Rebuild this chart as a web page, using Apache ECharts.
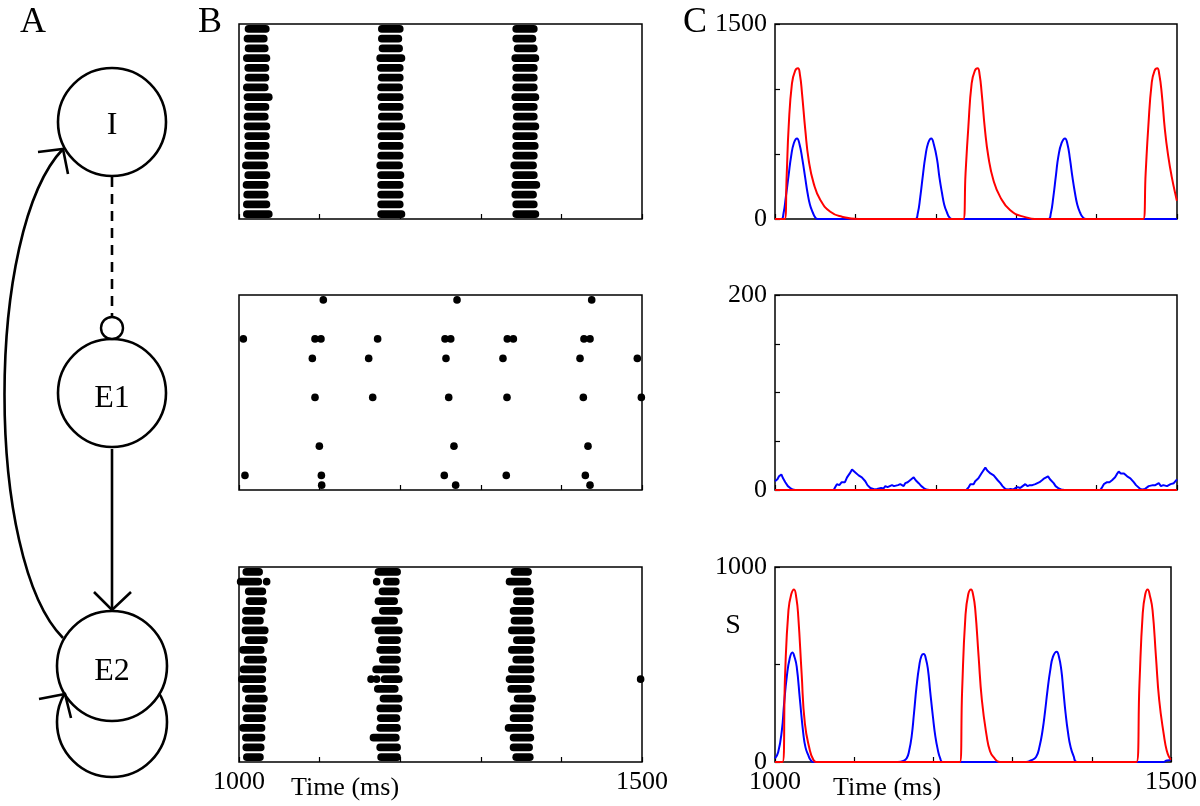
<!DOCTYPE html>
<html><head><meta charset="utf-8">
<script src="https://cdn.jsdelivr.net/npm/echarts@6/dist/echarts.min.js"></script>
<style>html,body{margin:0;padding:0;background:#fff}#c{width:1200px;height:806px}</style>
</head><body><div id="c"></div>
<script>
// ---------- DATA ----------
// Raster B (top): bursts per row, listed from row 20 (top) down to row 1, [firstSpike, lastSpike] ms
const topBurst1 = [[1011.8,1033.3],[1010.5,1030.8],[1011.8,1032.0],[1009.7,1034.1],[1011.4,1032.9],[1011.8,1032.9],[1009.7,1032.0],[1010.5,1037.0],[1011.4,1032.9],[1010.5,1032.0],[1010.5,1034.1],[1011.4,1033.3],[1011.4,1033.3],[1011.4,1032.5],[1008.5,1031.2],[1011.4,1034.1],[1009.3,1032.0],[1010.1,1032.0],[1009.7,1034.1],[1009.7,1037.0]];
const topBurst2 = [[1177.2,1199.5],[1177.2,1197.8],[1178.0,1198.7],[1175.1,1201.6],[1175.9,1199.5],[1177.2,1199.5],[1176.3,1198.7],[1176.3,1199.5],[1177.2,1199.5],[1177.2,1198.7],[1176.3,1201.6],[1176.3,1199.5],[1177.2,1199.5],[1176.3,1199.5],[1175.1,1198.7],[1176.3,1200.4],[1176.3,1199.5],[1176.3,1199.5],[1176.3,1199.5],[1176.3,1201.6]];
const topBurst3 = [[1343.9,1365.8],[1343.9,1364.1],[1345.6,1365.8],[1342.7,1367.8],[1343.9,1365.8],[1343.9,1365.8],[1343.9,1365.8],[1342.7,1367.8],[1343.9,1365.8],[1344.7,1365.8],[1343.9,1367.8],[1343.9,1365.8],[1343.9,1367.0],[1343.9,1365.8],[1341.4,1364.9],[1343.9,1365.8],[1342.7,1369.0],[1342.7,1364.9],[1343.9,1365.8],[1343.9,1367.8]];
// Raster B (middle): isolated spikes [time, row]
const midSpikes = [
 [1104.6,20],[1270.5,20],[1437.6,20],
 [1005.4,16],[1094.3,16],[1101.7,16],[1172.0,16],[1255.6,16],[1262.7,16],[1332.9,16],[1340.4,16],[1428.0,16],[1435.5,16],
 [1091.0,14],[1160.9,14],[1256.8,14],[1327.5,14],[1423.1,14],[1494.2,14],
 [1094.3,10],[1165.9,10],[1260.2,10],[1332.5,10],[1427.2,10],[1499.2,10],
 [1099.7,5],[1266.7,5],[1433.0,5],
 [1007.4,2],[1102.2,2],[1254.7,2],[1331.6,2],[1429.7,2],
 [1102.6,1],[1268.8,1],[1435.5,1]];
// Raster B (bottom)
const botBurst1 = [[1009,1025],[1002,1024],[1012,1029],[1013,1030],[1008.5,1028],[1008.5,1026],[1008,1032],[1012,1031],[1005,1027],[1010.5,1030],[1005.6,1029],[1003.5,1029],[1008.5,1028.7],[1012,1031],[1008.5,1029],[1009.7,1028.7],[1005,1028],[1008.5,1028],[1009,1027],[1009.7,1026]];
const botBurst2 = [[1173.0,1196.2],[1183.4,1194.6],[1178.0,1194.6],[1173.0,1192.5],[1178.4,1198.3],[1168.9,1192.5],[1173.0,1198.3],[1177.2,1196.2],[1175.1,1196.2],[1178.4,1196.2],[1170.1,1194.6],[1180.5,1198.3],[1172.2,1193.3],[1179.2,1198.3],[1175.1,1197.5],[1175.9,1195.4],[1175.1,1196.2],[1166.8,1194.6],[1175.1,1196.2],[1176.3,1196.2]];
const botBurst3 = [[1341.8,1358.7],[1335.6,1357.9],[1344.7,1360.8],[1344.7,1361.6],[1340.6,1360.8],[1341.8,1360.0],[1338.5,1362.0],[1344.7,1362.9],[1338.5,1360.8],[1343.9,1361.6],[1338.5,1361.6],[1335.6,1362.0],[1337.7,1358.7],[1345.6,1363.7],[1340.6,1361.6],[1340.6,1360.8],[1334.4,1360.0],[1340.6,1361.6],[1340.6,1360.0],[1343.9,1360.8]];
const botSpikes = [[1034.3,19],[1170.8,19],[1163.8,9],[1170.8,9],[1498.3,9]];

// C panels: [time ms, rate]
const cTopBlue = [[1000,0],[1007.9,0],[1010.5,40],[1013.5,170],[1017,340],[1020,480],[1023.5,585],[1027.4,620],[1030.5,575],[1034,460],[1037.5,320],[1040.5,200],[1043.5,110],[1047,50],[1050,12],[1053,0],
 [1174.5,0],[1177.5,40],[1180.7,170],[1184,340],[1187,480],[1190.5,585],[1194.4,620],[1197.5,575],[1201.5,460],[1204.5,320],[1207.7,200],[1210.5,110],[1213.9,50],[1217,12],[1220,0],
 [1340,0],[1343,40],[1346.2,170],[1349.5,340],[1352.4,480],[1356.5,585],[1360.7,620],[1363.8,575],[1366.9,460],[1370,320],[1373.1,200],[1376,110],[1379.4,50],[1383,12],[1386.8,0],[1500,0]];
const cTopRed = [[1000,0],[1012,0],[1014.5,330],[1017,710],[1021.1,1044],[1025,1140],[1028.6,1159],[1031,1110],[1033.6,967],[1037.7,684],[1041.9,454],[1048.1,274],[1056.4,146],[1068.8,56],[1083.3,18],[1104,0],
 [1234.2,0],[1237,350],[1240.5,710],[1244.6,1044],[1248.5,1140],[1252.1,1159],[1254.5,1110],[1257.1,967],[1261.2,684],[1265.4,479],[1271.6,300],[1279.9,172],[1292.3,69],[1308.9,18],[1330,0],
 [1458.1,0],[1461,350],[1464.3,710],[1468.5,1044],[1472,1140],[1475.5,1159],[1478,1110],[1481,967],[1485,684],[1489.2,479],[1493.4,326],[1499.6,146],[1500,140]];
const cMidBlue = [[1000,9],[1003,11],[1005,14],[1007.9,16],[1010,12],[1012.8,8],[1016,4],[1019,2],[1022,0.5],[1025,0],[1073,0],[1075,3],[1077,6],[1080,5],[1083,8],[1085,9],[1087,8],[1089.6,13],[1091,12],[1093,17],[1095.8,21],[1097,19],[1099.9,18],[1102,17],[1104,15],[1106,16],[1108,13],[1110,12],[1112.3,9],[1115,5],[1118.6,2],[1121,1],[1124,0.5],[1127,1],[1129,0.5],[1132,2],[1135,1.5],[1137.2,4],[1140,3],[1142,5],[1145.5,5],[1148,4],[1150,6],[1153,5],[1155.8,6],[1158,5],[1160,4],[1162,7],[1165,8],[1168,10],[1170,11],[1172.5,13],[1175,10],[1178.7,7],[1182,4],[1185,2],[1188,0.5],[1192,0],
 [1238,0],[1241,3],[1243,6],[1245,7],[1247,6],[1249,9],[1251.2,10],[1253,12],[1255,13],[1257.5,18],[1259.5,20],[1261.6,23],[1264,20],[1266,19],[1268,17],[1270,16],[1272,15],[1274.1,13],[1277,10],[1280.3,7],[1283,4],[1286.5,1],[1290,0.5],[1293,1],[1296,0.5],[1299,2],[1302,3],[1305,2],[1308,4],[1311.3,6],[1314,4],[1317,5],[1320,5],[1323.8,6],[1326,7],[1329,8],[1332.1,10],[1335,12],[1337,13],[1339.6,14],[1342,11],[1344,9],[1346.6,7],[1349,4],[1352.9,1.5],[1356,0.5],[1360,0],
 [1404.6,0],[1407,3],[1409,6],[1410.9,7],[1413,8],[1416,8],[1419.2,10],[1421,12],[1423,13],[1425,16],[1427.5,19],[1430,17],[1432,16],[1434,17],[1436,15],[1438,14],[1440,15],[1442,12],[1444,10],[1446.2,8],[1449,5],[1451,3],[1454.4,1],[1457,0.5],[1460,1],[1462,2],[1464.8,4],[1467,3],[1470,5],[1473,5],[1475,6],[1477.3,7],[1480,4],[1483,5],[1485,4],[1487.6,4],[1490,5],[1492,6],[1494,5],[1496,7],[1497.9,8],[1500,11]];
const cMidRed = [[1000,0],[1500,0]];
const cBotBlue = [[1000,19],[1004,50],[1008.7,164],[1011.5,300],[1014.9,438],[1018.5,530],[1022,561],[1024.5,540],[1027.4,489],[1031.5,318],[1035.7,147],[1038.5,75],[1041.9,36],[1045,10],[1048,0],
 [1155,0],[1162,5],[1166.3,19],[1169.5,60],[1172.5,130],[1175.5,250],[1178.7,386],[1182,490],[1185,545],[1187.8,554],[1190.5,530],[1193.2,472],[1196,360],[1199.4,232],[1202.5,130],[1205.6,62],[1208.5,20],[1211.8,0],
 [1317,0],[1323,8],[1329.6,26],[1334,80],[1337.9,164],[1341,260],[1344.1,369],[1347.5,470],[1351,540],[1355.7,566],[1358.5,540],[1361.5,472],[1364,370],[1366.9,250],[1370,150],[1373.1,79],[1377,30],[1381.5,0],[1490,0],[1495,8],[1500,10]];
const cBotRed = [[1000,0],[1009.5,0],[1012.8,455],[1017,779],[1020.5,860],[1024,885],[1027,840],[1029.4,745],[1033.6,455],[1037.7,198],[1043.9,62],[1048,15],[1052,0],
 [1233.4,0],[1236.3,369],[1240.4,745],[1244,860],[1247.5,885],[1250.5,850],[1252.9,779],[1257.1,540],[1261.2,318],[1267.4,130],[1271.5,55],[1275.7,26],[1284,0],
 [1456.5,0],[1460.2,403],[1464.3,762],[1467.5,860],[1470.5,885],[1473.5,850],[1476.7,779],[1481,540],[1485.1,318],[1491.3,130],[1494.5,60],[1497.5,26],[1500,12]];

const timeTicksLabels = ['1000','1500'];
const cYMax = [1500, 200, 1000];
const cYInterval = [500, 50, 500];

// ---------- BUILD ----------
const FONT = 'Liberation Serif';
const BLUE = '#0000ff', RED = '#ff0000';
function burstItems(list){ return list.map((b,i)=>[20-i, b[0], b[1]]); }
const topItems = [].concat(burstItems(topBurst1), burstItems(topBurst2), burstItems(topBurst3));
const botItems = [].concat(burstItems(botBurst1), burstItems(botBurst2), burstItems(botBurst3), botSpikes.map(s=>[s[1], s[0], s[0]]));

const H = 7.6;
function renderBurst(params, api){
  const row = api.value(0), s = api.value(1), e = api.value(2);
  const p0 = api.coord([s,row]), p1 = api.coord([e,row]);
  return {type:'rect', shape:{x:p0[0]-H/2, y:p0[1]-H/2, width:(p1[0]-p0[0])+H, height:H, r:H/2}, style:{fill:'#000'}};
}

const tops = [24, 295, 567];
const grids = [];
tops.forEach(t=>grids.push({left:239, top:t, width:403, height:195, show:true, borderColor:'#000', borderWidth:1.5, backgroundColor:'transparent'}));
tops.forEach(t=>grids.push({left:775, top:t, width:402, height:195, show:true, borderColor:'#000', borderWidth:1.5, backgroundColor:'transparent'}));

const labelStyle = {fontFamily:FONT, fontSize:26, color:'#000'};
const xAxes = grids.map((g,i)=>({
  type:'value', gridIndex:i, min:1000, max:1500, interval:100,
  axisLine:{show:false}, splitLine:{show:false},
  axisTick:{show:true, inside:true, length:5, lineStyle:{color:'#000', width:1.2}},
  axisLabel:{show:(i===2||i===5), margin:7, ...labelStyle,
    formatter:v=> timeTicksLabels.indexOf(String(v))>=0 ? String(v) : ''}
}));
const yAxes = grids.map((g,i)=>{
  if(i<3) return {type:'value', gridIndex:i, min:0.5, max:20.5, show:true, axisLine:{show:false}, axisTick:{show:false}, axisLabel:{show:false}, splitLine:{show:false}};
  const k=i-3;
  return {type:'value', gridIndex:i, min:0, max:cYMax[k], interval:cYInterval[k],
    axisLine:{show:false}, splitLine:{show:false},
    axisTick:{show:true, inside:true, length:5, lineStyle:{color:'#000', width:1.2}},
    axisLabel:{show:true, margin:8, ...labelStyle, formatter:v=>(v===0||v===cYMax[k])?String(v):''}};
});

function lineSeries(idx, data, color, smooth){
  return {type:'line', xAxisIndex:idx, yAxisIndex:idx, data:data, showSymbol:false, smooth:smooth,
    lineStyle:{color:color, width:2}, itemStyle:{color:color}, silent:true, animation:false};
}

const series = [
  {type:'custom', xAxisIndex:0, yAxisIndex:0, data:topItems, renderItem:renderBurst, encode:{x:[1,2], y:0}, silent:true, animation:false},
  {type:'scatter', xAxisIndex:1, yAxisIndex:1, data:midSpikes, symbolSize:7.6, itemStyle:{color:'#000', opacity:1}, clip:false, silent:true, animation:false},
  {type:'custom', xAxisIndex:2, yAxisIndex:2, data:botItems, renderItem:renderBurst, encode:{x:[1,2], y:0}, silent:true, animation:false},
  lineSeries(3, cTopBlue, BLUE, 0.5), lineSeries(3, cTopRed, RED, 0.5),
  lineSeries(4, cMidBlue, BLUE, false), lineSeries(4, cMidRed, RED, false),
  lineSeries(5, cBotBlue, BLUE, 0.5), lineSeries(5, cBotRed, RED, 0.5)
];

// ---------- Panel A diagram + texts ----------
const stroke = {stroke:'#000', lineWidth:2.6, fill:null};
const graphic = [
  {type:'text', x:33, y:23, style:{text:'A', font:'36px "Liberation Serif"', fill:'#000', textAlign:'center', textVerticalAlign:'middle'}},
  {type:'text', x:210, y:23, style:{text:'B', font:'36px "Liberation Serif"', fill:'#000', textAlign:'center', textVerticalAlign:'middle'}},
  {type:'text', x:695, y:23, style:{text:'C', font:'36px "Liberation Serif"', fill:'#000', textAlign:'center', textVerticalAlign:'middle'}},
  {type:'bezierCurve', shape:{x1:63,y1:638,cpx1:-15,cpy1:560,cpx2:-15,cpy2:230,x2:63,y2:149}, style:stroke},
  {type:'polyline', shape:{points:[[38,152],[63,149],[68,174]]}, style:stroke},
  {type:'circle', shape:{cx:112, cy:722, r:55}, style:stroke, z:1},
  {type:'polyline', shape:{points:[[39,699],[65,694],[71,718]]}, style:stroke, z:3},
  {type:'circle', shape:{cx:112, cy:122, r:54}, style:{stroke:'#000', lineWidth:2.6, fill:'#fff'}, z:2},
  {type:'circle', shape:{cx:112, cy:393, r:54}, style:{stroke:'#000', lineWidth:2.6, fill:'#fff'}, z:2},
  {type:'circle', shape:{cx:112, cy:666, r:55}, style:{stroke:'#000', lineWidth:2.6, fill:'#fff'}, z:2},
  {type:'line', shape:{x1:112,y1:177,x2:112,y2:317}, style:{stroke:'#000', lineWidth:2.6, lineDash:[10,7]}},
  {type:'circle', shape:{cx:112, cy:328, r:11}, style:{stroke:'#000', lineWidth:2.4, fill:'#fff'}, z:3},
  {type:'line', shape:{x1:112,y1:449,x2:112,y2:610}, style:stroke},
  {type:'polyline', shape:{points:[[94,592],[112,610],[131,592]]}, style:stroke},
  {type:'text', x:112, y:126, z:4, style:{text:'I', font:'32px "Liberation Serif"', fill:'#000', textAlign:'center', textVerticalAlign:'middle'}},
  {type:'text', x:112, y:399, z:4, style:{text:'E1', font:'32px "Liberation Serif"', fill:'#000', textAlign:'center', textVerticalAlign:'middle'}},
  {type:'text', x:112, y:672, z:4, style:{text:'E2', font:'32px "Liberation Serif"', fill:'#000', textAlign:'center', textVerticalAlign:'middle'}},
  {type:'text', x:345, y:788, style:{text:'Time (ms)', font:'26px "Liberation Serif"', fill:'#000', textAlign:'center', textVerticalAlign:'middle'}},
  {type:'text', x:887, y:788, style:{text:'Time (ms)', font:'26px "Liberation Serif"', fill:'#000', textAlign:'center', textVerticalAlign:'middle'}},
  {type:'text', x:733, y:626, style:{text:'S', font:'28px "Liberation Serif"', fill:'#000', textAlign:'center', textVerticalAlign:'middle'}}
];

const chart = echarts.init(document.getElementById('c'), null, {renderer:'canvas'});
chart.setOption({animation:false, backgroundColor:'#fff', grid:grids, xAxis:xAxes, yAxis:yAxes, series:series, graphic:graphic});
</script></body></html>
